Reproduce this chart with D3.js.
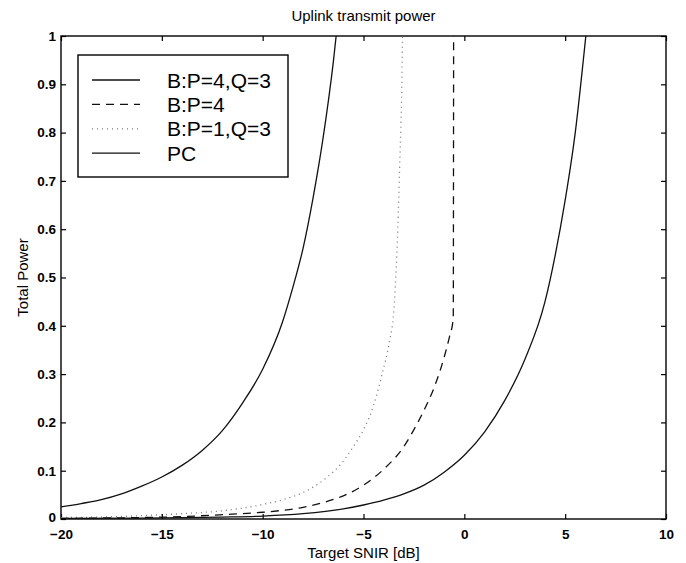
<!DOCTYPE html>
<html>
<head>
<meta charset="utf-8">
<script src="https://cdn.jsdelivr.net/npm/d3@7"></script>
<style>
    body { margin: 0; background: #fff; }
    svg { font-family: "Liberation Sans", Arial, sans-serif; }
</style>
</head>
<body>
<svg id="chart" width="686" height="563"></svg>
<script>

// Target SNIR [dB] / total power
var snrB43 = [-20, -19, -18, -17, -16, -15, -14, -13, -12, -11, -10, -9, -8.5, -8, -7.5, -7, -6.5, -6.2];
var powB43 = [0.025, 0.032, 0.04, 0.052, 0.068, 0.087, 0.111, 0.142, 0.183, 0.24, 0.31, 0.41, 0.48, 0.56, 0.665, 0.79, 0.945, 1.06];

var snrB4 = [-20, -18, -16, -14, -12, -10, -9, -8, -7, -6, -5, -4, -3, -2.5, -2, -1.5, -1, -0.75, -0.55, -0.53];
var powB4 = [0.001, 0.002, 0.003, 0.005, 0.009, 0.014, 0.018, 0.024, 0.034, 0.048, 0.07, 0.103, 0.15, 0.185, 0.225, 0.272, 0.335, 0.375, 0.415, 1.05];

var snrB13 = [-20, -18, -16, -14, -12, -10, -9, -8, -7, -6, -5.5, -5, -4.5, -4.2, -3.9, -3.7, -3.5, -3.4, -3.3, -3.2, -3.1, -3.05];
var powB13 = [0.003, 0.004, 0.007, 0.011, 0.017, 0.03, 0.04, 0.055, 0.08, 0.12, 0.15, 0.185, 0.235, 0.28, 0.33, 0.37, 0.43, 0.5, 0.6, 0.74, 0.9, 1.05];

var snrPC = [-20, -16, -12, -10, -8, -6, -5, -4, -3, -2, -1, 0, 1, 2, 3, 4, 4.5, 5, 5.5, 6, 6.1];
var powPC = [0.001, 0.002, 0.004, 0.006, 0.011, 0.021, 0.029, 0.039, 0.052, 0.07, 0.097, 0.132, 0.18, 0.245, 0.33, 0.45, 0.545, 0.66, 0.8, 0.99, 1.03];

var seriesNames = ["B:P=4,Q=3", "B:P=4", "B:P=1,Q=3", "PC"];

var xTicks = [-20, -15, -10, -5, 0, 5, 10];
var xTickLabels = ["\u221220", "\u221215", "\u221210", "\u22125", "0", "5", "10"];
var yTicks = [0, 0.1, 0.2, 0.3, 0.4, 0.5, 0.6, 0.7, 0.8, 0.9, 1];
var yTickLabels = ["0", "0.1", "0.2", "0.3", "0.4", "0.5", "0.6", "0.7", "0.8", "0.9", "1"];


PowerChart = function(_parentElement) {
    this.parentElement = _parentElement;
    this.initVis();
}

PowerChart.prototype.initVis = function() {
    var vis = this;

    vis.margin = { left: 61, right: 666, top: 36, bottom: 519 };
    vis.svg = d3.select("#" + vis.parentElement);

    vis.xScale = d3.scaleLinear().domain([-20, 10]).range([vis.margin.left, vis.margin.right]);
    vis.yScale = d3.scaleLinear().domain([0, 1]).range([vis.margin.bottom, vis.margin.top]);

    // one entry per line, styles by index
    vis.displayData = [
        { name: seriesNames[0], x: snrB43, y: powB43 },
        { name: seriesNames[1], x: snrB4, y: powB4 },
        { name: seriesNames[2], x: snrB13, y: powB13 },
        { name: seriesNames[3], x: snrPC, y: powPC }
    ];
    vis.dash = [null, "8,6", "1,4", null];
    vis.stroke = ["#111", "#111", "#777", "#111"];

    vis.updateVis();
}

PowerChart.prototype.updateVis = function() {
    var vis = this;
    var svg = vis.svg;
    var m = vis.margin;

    svg.append("clipPath").attr("id", "plot-clip")
        .append("rect")
        .attr("x", m.left).attr("y", m.top)
        .attr("width", m.right - m.left).attr("height", m.bottom - m.top);

    // ticks point inward like matlab
    var xBottom = d3.axisBottom(vis.xScale).tickValues(xTicks)
        .tickSizeInner(-5).tickSizeOuter(0)
        .tickFormat(function(d, i) { return xTickLabels[i]; });
    var xTop = d3.axisTop(vis.xScale).tickValues(xTicks)
        .tickSizeInner(-5).tickSizeOuter(0).tickFormat("");
    var yLeft = d3.axisLeft(vis.yScale).tickValues(yTicks)
        .tickSizeInner(-5).tickSizeOuter(0)
        .tickFormat(function(d, i) { return yTickLabels[i]; });
    var yRight = d3.axisRight(vis.yScale).tickValues(yTicks)
        .tickSizeInner(-5).tickSizeOuter(0).tickFormat("");

    var gx = svg.append("g").attr("class", "axis x-axis")
        .attr("transform", "translate(0," + m.bottom + ")").call(xBottom);
    gx.selectAll("text").attr("y", 10).attr("dy", "0.71em");

    svg.append("g").attr("transform", "translate(0," + m.top + ")").call(xTop);

    var gy = svg.append("g").attr("class", "axis y-axis")
        .attr("transform", "translate(" + m.left + ",0)").call(yLeft);
    gy.selectAll("text").attr("x", -5);
    // the zero label sits a touch high so it clears the -20 below it
    gy.selectAll("text").filter(function(d) { return d === 0; }).attr("y", -2);

    svg.append("g").attr("transform", "translate(" + m.right + ",0)").call(yRight);

    svg.selectAll(".domain").remove();
    svg.selectAll(".tick line").attr("stroke", "#000").attr("stroke-width", 1.2);
    svg.selectAll(".tick text")
        .attr("fill", "#000")
        .style("font-size", "13.5px")
        .style("font-weight", "bold");

    // box
    svg.append("rect")
        .attr("x", m.left).attr("y", m.top)
        .attr("width", m.right - m.left).attr("height", m.bottom - m.top)
        .attr("fill", "none").attr("stroke", "#000").attr("stroke-width", 1.4);

    var line = d3.line()
        .x(function(d) { return vis.xScale(d[0]); })
        .y(function(d) { return vis.yScale(d[1]); })
        .curve(d3.curveMonotoneX);

    svg.append("g").attr("clip-path", "url(#plot-clip)")
        .selectAll("path")
        .data(vis.displayData)
        .enter()
        .append("path")
        .attr("d", function(s) { return line(d3.zip(s.x, s.y)); })
        .attr("fill", "none")
        .attr("stroke", function(s, i) { return vis.stroke[i]; })
        .attr("stroke-width", 1.3)
        .attr("stroke-dasharray", function(s, i) { return vis.dash[i]; });

    // legend
    var lg = svg.append("g").attr("class", "legend");
    lg.append("rect")
        .attr("x", 78).attr("y", 55).attr("width", 210).attr("height", 122)
        .attr("fill", "#fff").attr("stroke", "#000").attr("stroke-width", 1.4);

    var rows = lg.selectAll("g.row")
        .data(vis.displayData)
        .enter()
        .append("g")
        .attr("class", "row")
        .attr("transform", function(d, i) { return "translate(0," + (80 + i * 24.4) + ")"; });

    rows.append("line")
        .attr("x1", 92).attr("x2", 140)
        .attr("stroke", function(s, i) { return vis.stroke[i]; })
        .attr("stroke-width", 1.3)
        .attr("stroke-dasharray", function(s, i) { return vis.dash[i]; });

    rows.append("text")
        .attr("x", 167).attr("dy", "0.36em")
        .style("font-size", "21px")
        .text(function(d) { return d.name; });

    // labels
    svg.append("text")
        .attr("x", (m.left + m.right) / 2).attr("y", 21)
        .attr("text-anchor", "middle")
        .style("font-size", "15px")
        .text("Uplink transmit power");

    svg.append("text")
        .attr("x", (m.left + m.right) / 2).attr("y", 558)
        .attr("text-anchor", "middle")
        .style("font-size", "15px")
        .text("Target SNIR [dB]");

    svg.append("text")
        .attr("transform", "translate(28," + ((m.top + m.bottom) / 2) + ") rotate(-90)")
        .attr("text-anchor", "middle")
        .style("font-size", "15px")
        .text("Total Power");
}

var chart = new PowerChart("chart");

</script>
</body>
</html>
